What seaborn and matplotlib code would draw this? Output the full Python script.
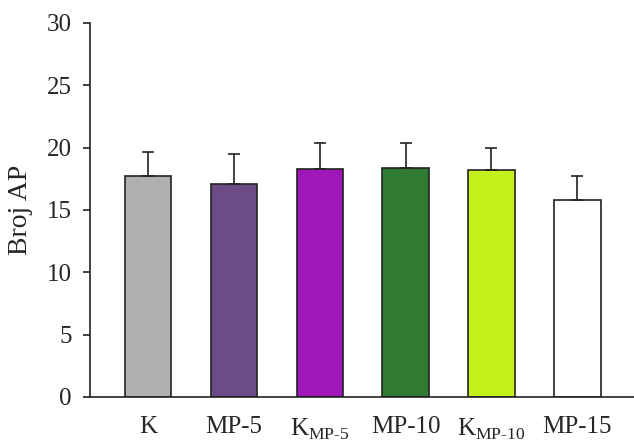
import matplotlib
matplotlib.use("Agg")
import matplotlib.pyplot as plt
import seaborn as sns
import pandas as pd

groups = ["K", "MP-5", "KMP-5", "MP-10", "KMP-10", "MP-15"]
tick_labels = ["K", "MP-5", "K$_{\\mathregular{MP‐5}}$", "MP-10",
               "K$_{\\mathregular{MP‐10}}$", "MP-15"]
means = [17.7, 17.1, 18.3, 18.4, 18.2, 15.8]
errors = [1.95, 2.4, 2.1, 2.0, 1.8, 1.9]
colors = ["#b0b0b0", "#6b4c87", "#a016b8", "#317a33", "#c6f01c", "#ffffff"]

sns.set_style("ticks")
plt.rcParams["font.family"] = ["Liberation Serif", "DejaVu Serif"]
plt.rcParams["mathtext.fontset"] = "custom"
plt.rcParams["mathtext.rm"] = "Liberation Serif"

df = pd.DataFrame({"grupa": groups, "broj": means})

fig = plt.figure(figsize=(6.34, 4.41), dpi=100)
ax = fig.add_axes([0.142, 0.1, 0.858, 0.848])

sns.barplot(data=df, x="grupa", y="broj", hue="grupa", palette=colors,
            saturation=1, width=0.54, edgecolor="#222222", linewidth=1.2,
            legend=False, ax=ax)
ax.errorbar(range(len(groups)), means, yerr=[[0] * len(groups), errors],
            fmt="none", ecolor="#222222", elinewidth=1.2, capsize=4, capthick=1.2)

ax.set_ylim(0, 30)
ax.set_xlim(-0.676, 5.66)
ax.set_yticks([0, 5, 10, 15, 20, 25, 30])
ax.set_xticks(range(len(groups)))
ax.set_xticklabels(tick_labels)
ax.set_xlabel("")
ax.set_ylabel("Broj AP", fontsize=20, labelpad=10)
ax.tick_params(axis="y", labelsize=18, length=5, width=1.2, color="#222222", pad=8)
ax.tick_params(axis="x", labelsize=18, length=0, pad=14)
sns.despine(ax=ax)
for s in ["left", "bottom"]:
    ax.spines[s].set_color("#222222")
    ax.spines[s].set_linewidth(1.2)

fig.savefig("out.png", dpi=100)
